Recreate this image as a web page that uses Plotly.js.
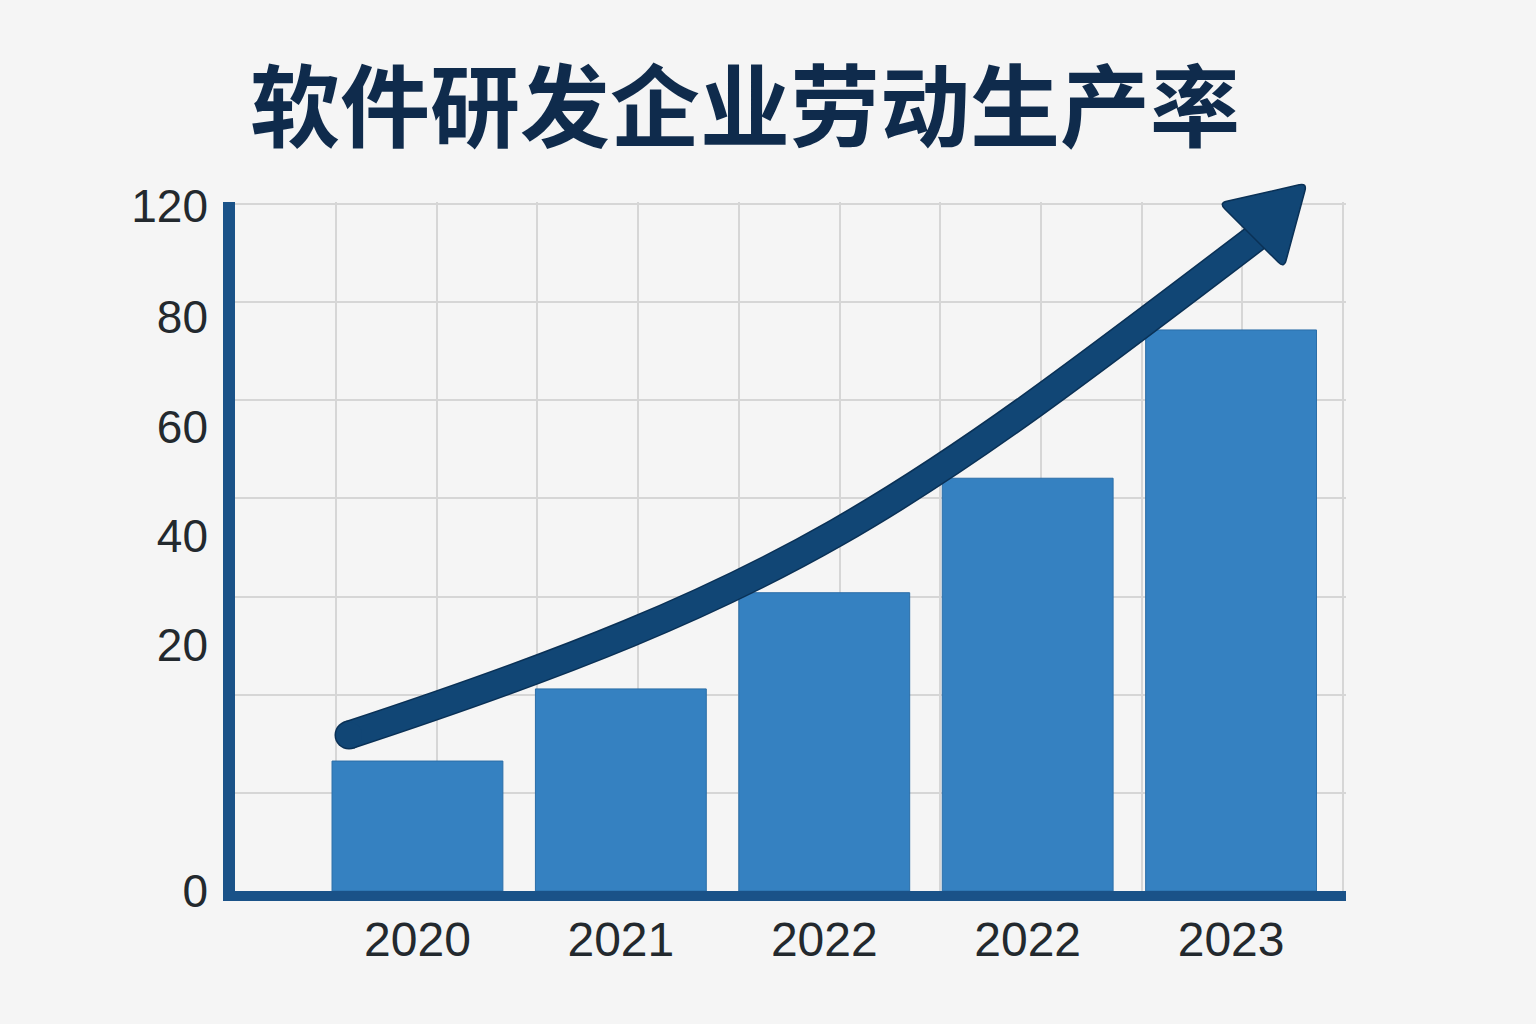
<!DOCTYPE html>
<html>
<head>
<meta charset="utf-8">
<script src="https://cdn.plot.ly/plotly-3.0.1.min.js"></script>
<style>
  html, body { margin: 0; padding: 0; background: #f5f5f5; }
  #chart { width: 1536px; height: 1024px; }
</style>
</head>
<body>
<div id="chart"></div>
<script>
// ---- data ----
const chartTitle = "软件研发企业劳动生产率";
const years = ["2020", "2021", "2022", "2022", "2023"];
const productivity = [22.7, 35.3, 52.1, 72.1, 98.0];
const yTickLabels = ["0", "20", "40", "60", "80", "120"];
const yTickAt = [0, 43.0, 62.1, 81.1, 100.3, 119.6];

// ---- layout geometry ----
const W = 1536, H = 1024;
const plotL = 235, plotR = 1346, plotT = 202, plotB = 891;
const xRange = [-0.897, 4.565];
const yRange = [0, 120.35];

const axisBlue = "#1a5288";
const gridGrey = "#d6d6d6";
const labelColor = "#23292e";
const arrowBlue = "#114675";
const arrowEdge = "#0a3156";

// pixel -> paper helpers for the decorative trend arrow
const px = v => (v - plotL) / (plotR - plotL);
const py = v => (plotB - v) / (plotB - plotT);
const pt = (x, y) => px(x) + "," + py(y);

function roundedPolygon(points, r) {
  let d = "";
  const n = points.length;
  for (let i = 0; i < n; i++) {
    const p = points[i], prev = points[(i - 1 + n) % n], next = points[(i + 1) % n];
    const d1 = Math.hypot(prev[0] - p[0], prev[1] - p[1]);
    const d2 = Math.hypot(next[0] - p[0], next[1] - p[1]);
    const a = [p[0] + (prev[0] - p[0]) * r / d1, p[1] + (prev[1] - p[1]) * r / d1];
    const b = [p[0] + (next[0] - p[0]) * r / d2, p[1] + (next[1] - p[1]) * r / d2];
    d += (i === 0 ? "M" : " L") + pt(a[0], a[1]) + " Q" + pt(p[0], p[1]) + " " + pt(b[0], b[1]);
  }
  return d + " Z";
}

const shaftPath = "M" + pt(349, 735) + " C" + pt(795, 588) + " " + pt(900, 509) + " " + pt(1258, 236);
const headPts = [[1219, 203], [1307, 183], [1284, 268]];
const headPath = roundedPolygon(headPts, 8);

const capR = 13, capX = 349, capY = 735;

const traces = [
  {
    type: "bar",
    x: years.map((_, i) => i),
    y: productivity,
    width: 0.84,
    marker: { color: "#3581c1", line: { color: "#2b6ea8", width: 1 } },
    hoverinfo: "skip",
    showlegend: false,
    xaxis: "x", yaxis: "y"
  },
  {
    type: "scatter", mode: "markers", x: [], y: [],
    xaxis: "x2", yaxis: "y2", showlegend: false, hoverinfo: "skip"
  }
];

const tickFont = { family: "Liberation Sans, Arial, sans-serif", color: labelColor };

const layout = {
  width: W, height: H,
  paper_bgcolor: "#f5f5f5",
  plot_bgcolor: "#f5f5f5",
  margin: { l: plotL, r: W - plotR, t: plotT, b: H - plotB, pad: 0 },
  showlegend: false,
  title: {
    text: chartTitle,
    x: 745 / W, xref: "container", xanchor: "center",
    y: 1 - 108 / H, yref: "container", yanchor: "middle",
    font: { family: "Noto Sans CJK SC, sans-serif", size: 90, weight: 700, color: "#0f2b4c" }
  },
  xaxis: {
    range: xRange, tickmode: "linear", tick0: 0.095, dtick: 0.495,
    showgrid: true, gridcolor: gridGrey, gridwidth: 2,
    showticklabels: false, ticks: "", zeroline: false,
    showline: true, linecolor: axisBlue, linewidth: 10, fixedrange: true
  },
  xaxis2: {
    overlaying: "x", anchor: "y", side: "bottom",
    range: xRange, tickmode: "array",
    tickvals: years.map((_, i) => i), ticktext: years,
    showgrid: false, zeroline: false, showline: false, ticks: "",
    tickfont: Object.assign({ size: 48 }, tickFont),
    ticklabelstandoff: 16, fixedrange: true
  },
  yaxis: {
    range: yRange, tickmode: "linear", tick0: 0, dtick: 120 / 7,
    showgrid: true, gridcolor: gridGrey, gridwidth: 2,
    showticklabels: false, ticks: "", zeroline: false,
    showline: true, linecolor: axisBlue, linewidth: 12, fixedrange: true
  },
  yaxis2: {
    overlaying: "y", anchor: "x", side: "left",
    range: yRange, tickmode: "array",
    tickvals: yTickAt, ticktext: yTickLabels,
    showgrid: false, zeroline: false, showline: false, ticks: "",
    tickfont: Object.assign({ size: 46 }, tickFont),
    ticklabelstandoff: 26, fixedrange: true
  },
  shapes: [
    { type: "path", xref: "paper", yref: "paper", path: shaftPath,
      line: { color: arrowEdge, width: 29 }, fillcolor: "rgba(0,0,0,0)", layer: "above" },
    { type: "circle", xref: "paper", yref: "paper",
      x0: px(capX - capR - 1.5), x1: px(capX + capR + 1.5), y0: py(capY + capR + 1.5), y1: py(capY - capR - 1.5),
      fillcolor: arrowEdge, line: { width: 0 }, layer: "above" },
    { type: "path", xref: "paper", yref: "paper", path: shaftPath,
      line: { color: arrowBlue, width: 26 }, fillcolor: "rgba(0,0,0,0)", layer: "above" },
    { type: "circle", xref: "paper", yref: "paper",
      x0: px(capX - capR), x1: px(capX + capR), y0: py(capY + capR), y1: py(capY - capR),
      fillcolor: arrowBlue, line: { width: 0 }, layer: "above" },
    { type: "path", xref: "paper", yref: "paper", path: headPath,
      fillcolor: arrowBlue, line: { color: arrowEdge, width: 1.5 }, layer: "above" }
  ]
};

Plotly.newPlot("chart", traces, layout, { staticPlot: true, displayModeBar: false });
</script>
</body>
</html>
